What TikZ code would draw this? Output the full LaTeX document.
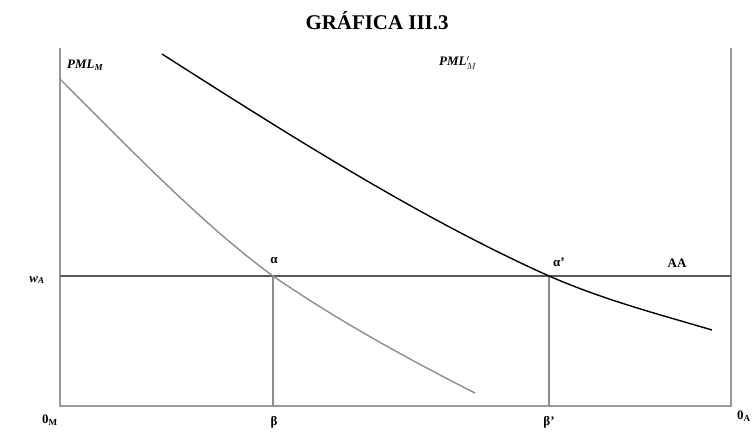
\documentclass[tikz,border=0pt]{standalone}
\usepackage{fontspec}
\setmainfont{Liberation Serif}
\begin{document}
\begin{tikzpicture}[x=1bp,y=-1bp,
    axis/.style={line width=1.6pt,color=black!40},
    wline/.style={line width=1.4pt,color=black!65},
    drop/.style={line width=1.1pt,color=black!45},
    lbl/.style={font=\bfseries\fontsize{13}{13}\selectfont,inner sep=1pt}]
  \useasboundingbox (0,0) rectangle (753,432);
  % marco del diagrama
  \coordinate (OM) at (60,406);
  \coordinate (OA) at (731,406);
  \coordinate (TM) at (60,48);
  \coordinate (TA) at (731,48);
  \coordinate (WL) at (60,276);
  \coordinate (WR) at (731,276);
  \coordinate (al) at (273,276);
  \coordinate (alp) at (549,276);
  \coordinate (be) at (273,406);
  \coordinate (bep) at (549,406);
  \draw[axis] (TM) -- (OM) -- (OA) -- (TA);
  \draw[wline] (WL) -- (WR);
  \draw[drop] (al) -- (be);
  \draw[drop] (alp) -- (bep);
  % curvas PML
  \coordinate (g0) at (60,79);
  \coordinate (g1) at (475,393);
  \coordinate (k0) at (162,54);
  \coordinate (k1) at (712,330);
  \draw[line width=1.4pt,color=black!45] (g0) .. controls (130,149) and (203,225) .. (al)
    .. controls (340,322) and (410,360) .. (g1);
  \draw[line width=1.4pt] (k0) .. controls (292,137) and (420,218) .. (alp)
    .. controls (604,300) and (658,314) .. (k1);
  % textos
  \node[font=\bfseries\fontsize{21}{21}\selectfont] (title) at (377,21) {GRÁFICA III.3};
  \node[lbl,anchor=west] (pml) at (66,65) {\itshape PML\textsubscript{M}};
  \node[lbl,anchor=west] (pmlp) at (438,63) {\itshape PML$^{\prime}_{M}$};
  \node[lbl] (lal) at (274,261) {α};
  \node[lbl] (lalp) at (559,262) {α'};
  \node[lbl] (aa) at (677,263) {AA};
  \node[lbl] (wa) at (37,280) {\itshape w\textsubscript{A}};
  \node[lbl] (om) at (50,420) {0\textsubscript{M}};
  \node[lbl] (lbe) at (274,422) {β};
  \node[lbl] (lbep) at (549,422) {β'};
  \node[lbl,anchor=west] (oa) at (736,416) {0\textsubscript{A}};
\end{tikzpicture}
\end{document}
